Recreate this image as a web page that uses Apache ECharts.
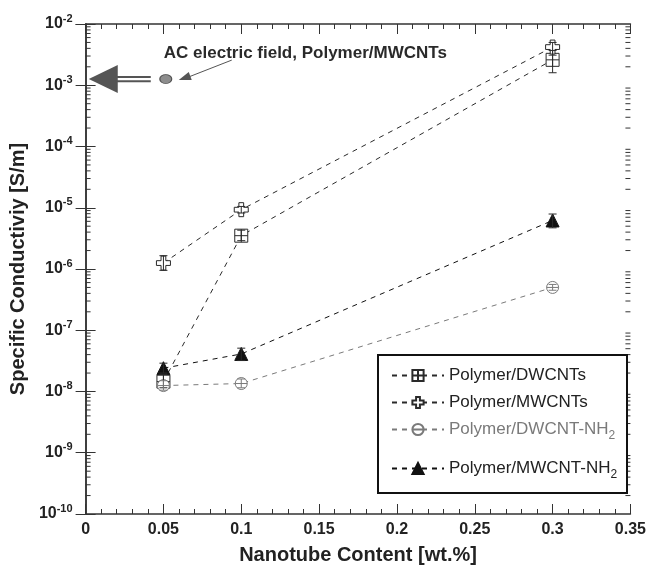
<!DOCTYPE html>
<html>
<head>
<meta charset="utf-8">
<script src="https://cdn.jsdelivr.net/npm/echarts@6/dist/echarts.min.js"></script>
<style>
  html, body { margin: 0; padding: 0; background: #fff; }
  #chart { width: 649px; height: 572px; }
</style>
</head>
<body>
<div id="chart"></div>
<script>
    // nanotube content [wt.%]
    const contents = [0.05, 0.1, 0.3]

    // conductivity values [S/m]
    const dwcnt = [1.45e-8, 3.5e-6, 2.6e-3]
    const mwcnt = [1.25e-6, 9.3e-6, 4.2e-3]
    const dwcntNH2 = [1.25e-8, 1.35e-8, 5.0e-7]
    const mwcntNH2 = [2.4e-8, 4.1e-8, 6.2e-6]

    // error bars [low, high]
    const dwcntErr = [[1.15e-8, 1.9e-8], [2.9e-6, 4.3e-6], [1.6e-3, 3.7e-3]]
    const mwcntErr = [[9.5e-7, 1.65e-6], [8.2e-6, 1.05e-5], [3.1e-3, 5.0e-3]]
    const dwcntNH2Err = [[1.05e-8, 1.5e-8], [1.15e-8, 1.6e-8], [4.5e-7, 5.6e-7]]
    const mwcntNH2Err = [[2.0e-8, 2.9e-8], [3.2e-8, 5.1e-8], [4.7e-6, 7.9e-6]]

    // AC electric field point
    const acPoint = [0.0515, 1.26e-3]

    const yTickExp = [-10, -9, -8, -7, -6, -5, -4, -3, -2]

    const dark = '#2a2a2a'
    const grey = '#7a7a7a'
    const font = 'Liberation Sans, Arial, sans-serif'

    // log minor ticks 2..9 in each decade
    const minorTicks = []
    for (let e = -10; e < -2; e++) {
        for (let m = 2; m <= 9; m++) minorTicks.push([m * Math.pow(10, e)])
    }

    const pair = (xs, ys) => xs.map((x, i) => [x, ys[i]])
    const errPair = (xs, es) => xs.map((x, i) => [x, es[i][0], es[i][1]])

    const symSquare = 'path://M0,0 H10 V10 H0 Z M5,0 V10 M0,5 H10'
    const symPlus = 'path://M3.3,0 H6.7 V3.3 H10 V6.7 H6.7 V10 H3.3 V6.7 H0 V3.3 H3.3 Z'
    const symCircle = 'path://M10,5 A5,5 0 1,1 0,5 A5,5 0 1,1 10,5 Z M0,5 H10'

    function lineSeries(name, data, symbol, color, fill, size) {
        return {
            name: name,
            type: 'line',
            data: data,
            symbol: symbol,
            symbolSize: size,
            showSymbol: true,
            lineStyle: {color: color, width: 1, type: [5, 5]},
            itemStyle: {color: fill, borderColor: color, borderWidth: 1},
            z: 5
        }
    }

    function errSeries(data, color) {
        return {
            type: 'custom',
            data: data,
            silent: true,
            z: 6,
            renderItem: function (params, api) {
                const x = api.value(0)
                const lo = api.coord([x, api.value(1)])
                const hi = api.coord([x, api.value(2)])
                const w = 4
                const st = {stroke: color, lineWidth: 1}
                return {
                    type: 'group',
                    children: [
                        {type: 'line', shape: {x1: lo[0], y1: lo[1], x2: hi[0], y2: hi[1]}, style: st},
                        {type: 'line', shape: {x1: lo[0] - w, y1: lo[1], x2: lo[0] + w, y2: lo[1]}, style: st},
                        {type: 'line', shape: {x1: hi[0] - w, y1: hi[1], x2: hi[0] + w, y2: hi[1]}, style: st}
                    ]
                }
            }
        }
    }

    const axisLine = {show: true, lineStyle: {color: '#333', width: 1.5}}
    const xAxisBase = {
        type: 'value', min: 0, max: 0.35, interval: 0.05,
        axisLine: axisLine,
        axisTick: {show: true, inside: true, length: 10, lineStyle: {color: '#333'}},
        minorTick: {show: true, splitNumber: 5, length: 5, lineStyle: {color: '#333', width: 1}},
        splitLine: {show: false}
    }
    const yAxisBase = {
        type: 'log', logBase: 10, min: 1e-10, max: 1e-2,
        axisLine: axisLine,
        axisTick: {show: true, inside: true, length: 10, lineStyle: {color: '#333'}},
        splitLine: {show: false}
    }

    const dom = document.getElementById('chart')
    const chart = echarts.init(dom, null, {renderer: 'canvas'})

    const legendText = {
        fontFamily: font,
        fontSize: 17,
        color: '#222',
        rich: {
            sub: {fontSize: 12, padding: [12, 0, 0, 0], fontFamily: font}
        }
    }
    const legendFormatter = name => name.replace('NH2', 'NH{sub|2}')

    const option = {
        animation: false,
        backgroundColor: '#fff',
        grid: {left: 82, right: 17, top: 24, bottom: 58},
        xAxis: [
            Object.assign({}, xAxisBase, {
                position: 'bottom',
                name: 'Nanotube Content [wt.%]',
                nameLocation: 'middle',
                nameGap: 31,
                nameTextStyle: {fontFamily: font, fontWeight: 'bold', fontSize: 20, color: '#222'},
                axisLabel: {
                    margin: 8, fontFamily: font, fontWeight: 'bold', fontSize: 16, color: '#222',
                    formatter: v => String(Math.round(v * 100) / 100)
                }
            }),
            Object.assign({}, xAxisBase, {position: 'top', axisLabel: {show: false}})
        ],
        yAxis: [
            Object.assign({}, yAxisBase, {
                position: 'left',
                name: 'Specific Conductiviy [S/m]',
                nameLocation: 'middle',
                nameGap: 46,
                nameTextStyle: {fontFamily: font, fontWeight: 'bold', fontSize: 20, color: '#222'},
                axisLabel: {
                    margin: 13,
                    formatter: function (v) {
                        const e = Math.round(Math.log10(v))
                        if (yTickExp.indexOf(e) < 0) return ''
                        return '{b|10}{s|' + e + '}'
                    },
                    rich: {
                        b: {fontFamily: font, fontWeight: 'bold', fontSize: 16, color: '#222'},
                        s: {fontFamily: font, fontWeight: 'bold', fontSize: 11, color: '#222', padding: [0, 0, 11, 0]}
                    }
                }
            }),
            Object.assign({}, yAxisBase, {position: 'right', axisLabel: {show: false}})
        ],
        legend: [{
            left: 386, top: 362, orient: 'vertical',
            itemWidth: 52, itemHeight: 14, itemGap: 10,
            data: [
                {name: 'Polymer/DWCNTs'},
                {name: 'Polymer/MWCNTs'},
                {name: 'Polymer/DWCNT-NH2', textStyle: {color: grey}}
            ],
            textStyle: legendText,
            formatter: legendFormatter
        }, {
            left: 386, top: 455, orient: 'vertical',
            itemWidth: 52, itemHeight: 14,
            data: [{name: 'Polymer/MWCNT-NH2'}],
            textStyle: legendText,
            formatter: legendFormatter
        }],
        series: [
            lineSeries('Polymer/DWCNTs', pair(contents, dwcnt), symSquare, dark, '#fff', 13),
            lineSeries('Polymer/MWCNTs', pair(contents, mwcnt), symPlus, dark, '#fff', 14),
            lineSeries('Polymer/DWCNT-NH2', pair(contents, dwcntNH2), symCircle, grey, '#fff', 12),
            lineSeries('Polymer/MWCNT-NH2', pair(contents, mwcntNH2), 'triangle', '#111', '#111', 13),
            errSeries(errPair(contents, dwcntErr), dark),
            errSeries(errPair(contents, mwcntErr), dark),
            errSeries(errPair(contents, dwcntNH2Err), grey),
            errSeries(errPair(contents, mwcntNH2Err), dark),
            {
                name: 'AC',
                type: 'scatter',
                data: [acPoint],
                symbol: 'circle',
                symbolSize: [12, 9],
                itemStyle: {color: '#707070', borderColor: '#333', borderWidth: 1},
                z: 6
            },
            {
                // log minor ticks on left and right frame
                type: 'custom',
                data: minorTicks,
                silent: true,
                renderItem: function (params, api) {
                    const y = api.coord([0, api.value(0)])[1]
                    const cs = params.coordSys
                    const st = {stroke: '#333', lineWidth: 1}
                    return {
                        type: 'group',
                        children: [
                            {type: 'line', shape: {x1: cs.x, y1: y, x2: cs.x + 5, y2: y}, style: st},
                            {type: 'line', shape: {x1: cs.x + cs.width - 5, y1: y, x2: cs.x + cs.width, y2: y}, style: st}
                        ]
                    }
                }
            }
        ]
    }

    chart.setOption(option)

    // annotation around the AC point
    const p = chart.convertToPixel({gridIndex: 0}, acPoint)
    const arrowColor = '#555'
    chart.setOption({
        graphic: [
            {
                type: 'rect', z: 3, silent: true,
                shape: {x: 378, y: 355, width: 249, height: 138},
                style: {fill: '#fff', stroke: '#111', lineWidth: 2}
            },
            {
                type: 'polygon', z: 10, silent: true,
                shape: {points: [[p[0] - 77, p[1]], [p[0] - 48, p[1] - 14], [p[0] - 48, p[1] + 14]]},
                style: {fill: arrowColor}
            },
            {
                type: 'line', z: 10, silent: true,
                shape: {x1: p[0] - 50, y1: p[1] - 2.2, x2: p[0] - 15, y2: p[1] - 2.2},
                style: {stroke: arrowColor, lineWidth: 2}
            },
            {
                type: 'line', z: 10, silent: true,
                shape: {x1: p[0] - 50, y1: p[1] + 2.2, x2: p[0] - 15, y2: p[1] + 2.2},
                style: {stroke: arrowColor, lineWidth: 2}
            },
            {
                type: 'line', z: 10, silent: true,
                shape: {x1: p[0] + 66, y1: p[1] - 19, x2: p[0] + 20, y2: p[1] - 1},
                style: {stroke: arrowColor, lineWidth: 1}
            },
            {
                type: 'polygon', z: 10, silent: true,
                shape: {points: [[p[0] + 13, p[1] + 1], [p[0] + 23, p[1] - 7], [p[0] + 26, p[1] + 1]]},
                style: {fill: arrowColor}
            },
            {
                type: 'text', z: 10, silent: true,
                x: p[0] - 2, y: p[1] - 26,
                style: {
                    text: 'AC electric field, Polymer/MWCNTs',
                    fontFamily: font, fontWeight: 'bold', fontSize: 17,
                    fill: '#2a2a2a', textVerticalAlign: 'middle'
                }
            }
        ]
    })

    window.onresize = chart.resize
</script>
</body>
</html>
